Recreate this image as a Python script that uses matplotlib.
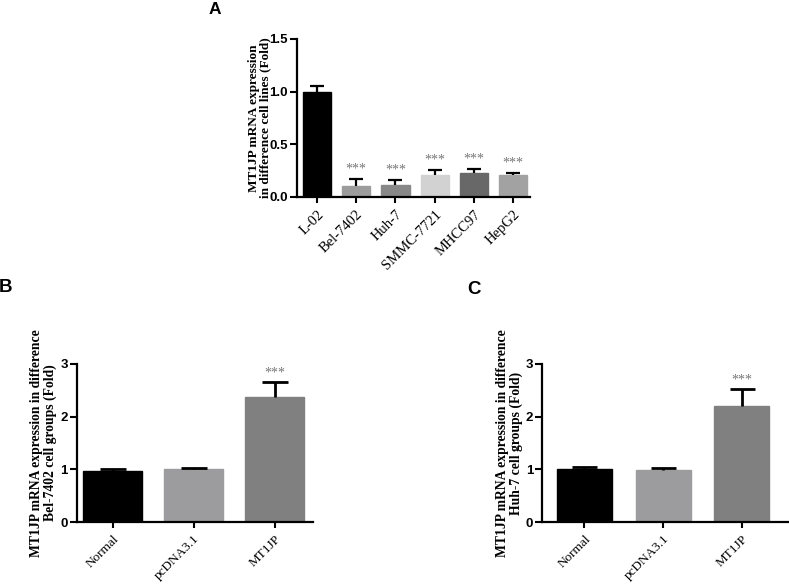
import matplotlib
matplotlib.use("Agg")
import matplotlib.pyplot as plt

# Panel A data
a_cats = ["L-02", "Bel-7402", "Huh-7", "SMMC-7721", "MHCC97", "HepG2"]
a_vals = [1.0, 0.10, 0.11, 0.21, 0.23, 0.21]
a_errs = [0.05, 0.07, 0.05, 0.05, 0.035, 0.02]
a_cols = ["#000000", "#9c9c9c", "#888888", "#d2d2d2", "#686868", "#a2a2a2"]
a_sig = ["", "***", "***", "***", "***", "***"]

# Panel B data
b_cats = ["Normal", "pcDNA3.1", "MT1JP"]
b_vals = [0.97, 1.0, 2.38]
b_errs = [0.03, 0.03, 0.27]
# Panel C data
c_cats = ["Normal", "pcDNA3.1", "MT1JP"]
c_vals = [1.0, 0.98, 2.2]
c_errs = [0.04, 0.04, 0.32]
bc_cols = ["#000000", "#9c9c9e", "#808080"]
bc_sig = ["", "", "***"]

serif = ["Liberation Serif", "DejaVu Serif"]
sans = ["Liberation Sans", "DejaVu Sans"]

fig = plt.figure(figsize=(7.89, 5.87), dpi=100)


def panel(rect, cats, vals, errs, cols, sig, ylim, yticks, ylabel, xlim, width,
          fs_label, fs_x, cap, lw, label_x, lsp):
    ax = fig.add_axes(rect)
    x = list(range(len(cats)))
    ax.bar(x, vals, width=width, color=cols, edgecolor=cols, zorder=2)
    for xi, v, e in zip(x, vals, errs):
        ax.errorbar([xi], [v], yerr=[[0], [e]], fmt="none", ecolor="black",
                    elinewidth=lw, capsize=0, zorder=3)
        ax.plot([xi], [v + e], marker="_", markersize=cap, mew=lw, color="black",
                zorder=3)
    for xi, v, e, s in zip(x, vals, errs, sig):
        if s:
            ax.text(xi, v + e + ylim[1] * 0.02, s, ha="center", va="bottom",
                    fontsize=10, color="#777777", family=serif)
    ax.set_xlim(*xlim)
    ax.set_ylim(*ylim)
    ax.set_yticks(yticks)
    ax.set_yticklabels([str(t) for t in yticks], family=sans, fontweight="bold",
                       fontsize=9.5)
    ax.set_xticks(x)
    ax.set_xticklabels(cats, rotation=45, ha="right", rotation_mode="anchor",
                       family=serif, fontsize=fs_x)
    ax.tick_params(axis="x", length=4.5, width=1.5)
    ax.tick_params(axis="y", length=5, width=1.5, pad=1.5)
    for s in ["top", "right"]:
        ax.spines[s].set_visible(False)
    for s in ["left", "bottom"]:
        ax.spines[s].set_linewidth(1.6)
    ax.text(label_x, 0.5, ylabel, transform=ax.transAxes, rotation=90,
            ha="center", va="center", family=serif, fontweight="bold",
            fontsize=fs_label, linespacing=lsp, multialignment="center")
    ax.patch.set_alpha(0)
    return ax


panel([0.3764, 0.6644, 0.2953, 0.2692], a_cats, a_vals, a_errs, a_cols, a_sig,
      (0, 1.5), [0.0, 0.5, 1.0, 1.5],
      "MT1JP mRNA expression\nin difference cell lines (Fold)",
      (-0.51, 5.43), 0.72, 9.5, 10.5, 9.5, 1.6, -0.16, 0.9)

panel([0.0976, 0.1107, 0.2991, 0.2692], b_cats, b_vals, b_errs, bc_cols, bc_sig,
      (0, 3), [0, 1, 2, 3],
      "MT1JP mRNA expression in difference\nBel-7402 cell groups (Fold)",
      (-0.44, 2.475), 0.72, 9.8, 9.5, 19, 2.0, -0.142, 1.0)

panel([0.6870, 0.1107, 0.3117, 0.2692], c_cats, c_vals, c_errs, bc_cols, bc_sig,
      (0, 3), [0, 1, 2, 3],
      "MT1JP mRNA expression in difference\nHuh-7 cell groups (Fold)",
      (-0.54, 2.59), 0.70, 9.8, 9.5, 18, 2.0, -0.132, 1.0)

fig.text(215 / 789, 1 - 9 / 587, "A", family=sans, fontweight="bold", fontsize=12.5,
         ha="center", va="center")
fig.text(6 / 789, 1 - 288 / 587, "B", family=sans, fontweight="bold", fontsize=13.5,
         ha="center", va="center")
fig.text(474 / 789, 1 - 290 / 587, "C", family=sans, fontweight="bold", fontsize=13.5,
         ha="center", va="center")

fig.savefig("out.png", dpi=100, facecolor="white")
